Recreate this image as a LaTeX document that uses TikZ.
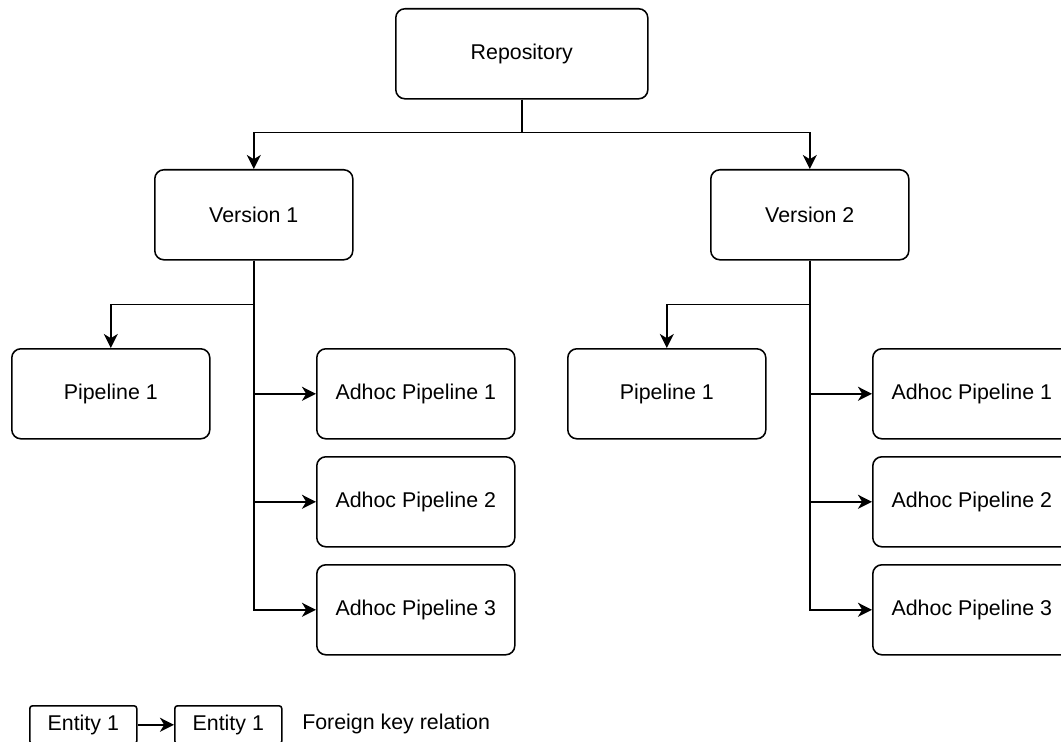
\documentclass[tikz,border=0pt]{standalone}
\usepackage{fontspec}
\setmainfont{Liberation Sans}
\usepackage{tikz}
\usetikzlibrary{arrows.meta}

\begin{document}
\begin{tikzpicture}[x=0.025cm,y=-0.025cm]
		\tikzstyle{entity}=[draw,rectangle,rounded corners=6.5pt,line width=1.1pt,text centered,inner sep=0pt,anchor=north west,minimum width=4.95cm,minimum height=2.25cm,font=\fontsize{15.2}{18}\selectfont]
		\tikzstyle{legend}=[entity,rounded corners=2pt,minimum width=2.675cm,minimum height=0.95cm]
		\tikzstyle{link}=[line width=1.1pt,-{Stealth[length=10pt,width=10pt,inset=3pt]}]
		
		\useasboundingbox (0,0) rectangle (1061,742);
		\clip (0,0) rectangle (1061,742);
		
		\node[entity,minimum width=6.3cm] (repo) at (395,8) {Repository};
		
		\node[entity] (v1) at (154,169) {Version 1};
		\node[entity] (v2) at (710,169) {Version 2};
		
		\node[entity] (p1) at (11,348) {Pipeline 1};
		\node[entity] (a11) at (316,348) {Adhoc Pipeline 1};
		\node[entity] (a12) at (316,456) {Adhoc Pipeline 2};
		\node[entity] (a13) at (316,564) {Adhoc Pipeline 3};
		
		\node[entity] (p2) at (567,348) {Pipeline 1};
		\node[entity] (a21) at (872,348) {Adhoc Pipeline 1};
		\node[entity] (a22) at (872,456) {Adhoc Pipeline 2};
		\node[entity] (a23) at (872,564) {Adhoc Pipeline 3};
		
		\draw[link] (repo.south) -- ++(0,33) -| (v1);
		\draw[link] (repo.south) -- ++(0,33) -| (v2);
		
		\draw[link] (v1.south) -- ++(0,44) -| (p1);
		\draw[link] (v1.south) |- (a11);
		\draw[link] (v1.south) |- (a12);
		\draw[link] (v1.south) |- (a13);
		
		\draw[link] (v2.south) -- ++(0,44) -| (p2);
		\draw[link] (v2.south) |- (a21);
		\draw[link] (v2.south) |- (a22);
		\draw[link] (v2.south) |- (a23);
		
		% legend
		\node[legend] (e1) at (29,705) {Entity 1};
		\node[legend] (e2) at (174,705) {Entity 1};
		\draw[link] (e1) -- (e2);
		\node[anchor=west,inner sep=0pt,font=\fontsize{15.2}{18}\selectfont] (fk) at (302,724) {Foreign key relation};
		
		\end{tikzpicture}
\end{document}
